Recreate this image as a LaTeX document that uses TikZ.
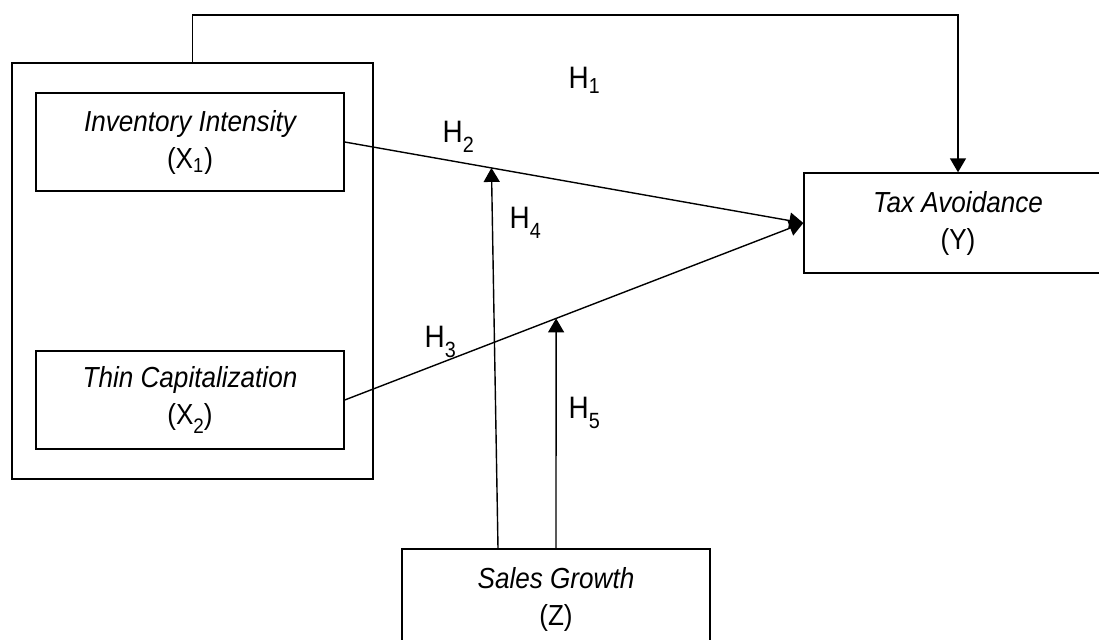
\documentclass[tikz,border=0pt]{standalone}
\usepackage{fontspec}
\setmainfont{Liberation Sans}[FakeStretch=0.9]
\usetikzlibrary{arrows.meta,calc}

\newcommand{\hyp}[1]{H\raisebox{-0.33em}{\fontsize{11}{11}\selectfont #1}}

\begin{document}
\begin{tikzpicture}[x=0.5pt,y=-0.5pt,line width=0.7pt,
        var/.style={draw,rectangle,inner sep=0pt,minimum width=154pt,minimum height=49pt,
            align=center,font=\fontsize{14.5}{18.5}\selectfont},
        hlabel/.style={anchor=base west,inner sep=0pt,font=\fontsize{15.5}{15.5}\selectfont},
        arr/.style={-{Triangle[length=7pt,width=8pt]}}]
        \useasboundingbox (0,0) rectangle (1099,639);

        % variables
        \node[draw,inner sep=0pt,minimum width=180.5pt,minimum height=208pt] (group) at (192.5,271) {};
        \node[var] (inv) at (190,142) {\itshape Inventory Intensity\\(X\textsubscript{1})};
        \node[var] (thin) at (190,400) {\itshape Thin Capitalization\\(X\raisebox{-0.3em}{\fontsize{10.5}{10.5}\selectfont 2})};
        \node[var,minimum height=50pt] (tax) at (958,223) {\itshape Tax Avoidance\\(Y)};
        \node[var,minimum height=50pt] (sales) at (556,599) {\itshape Sales Growth\\(Z)};

        \coordinate (top) at (0,15);
        \coordinate (m2) at ($(inv.east)!0.32!(tax.west)$);
        \coordinate (m3) at ($(thin.east)!0.461!(tax.west)$);
        \coordinate (s4) at ($(sales.north)+(-58,0)$);

        % paths
        \draw[arr] (group.north) -- (group.north |- top) -| (tax.north);
        \draw[arr] (inv.east) -- (tax.west);
        \draw[arr] (thin.east) -- (tax.west);
        \draw[arr] (s4) -- (m2);
        \draw[arr] (sales.north) -- (m3);

        % hypotheses
        \node[hlabel] (h1) at (568,88) {H\textsubscript{1}};
        \node[hlabel] (h2) at (442,142) {\hyp{2}};
        \node[hlabel] (h3) at (424,347) {\hyp{3}};
        \node[hlabel] (h4) at (509,228) {\hyp{4}};
        \node[hlabel] (h5) at (568,418) {\hyp{5}};
    \end{tikzpicture}
\end{document}
